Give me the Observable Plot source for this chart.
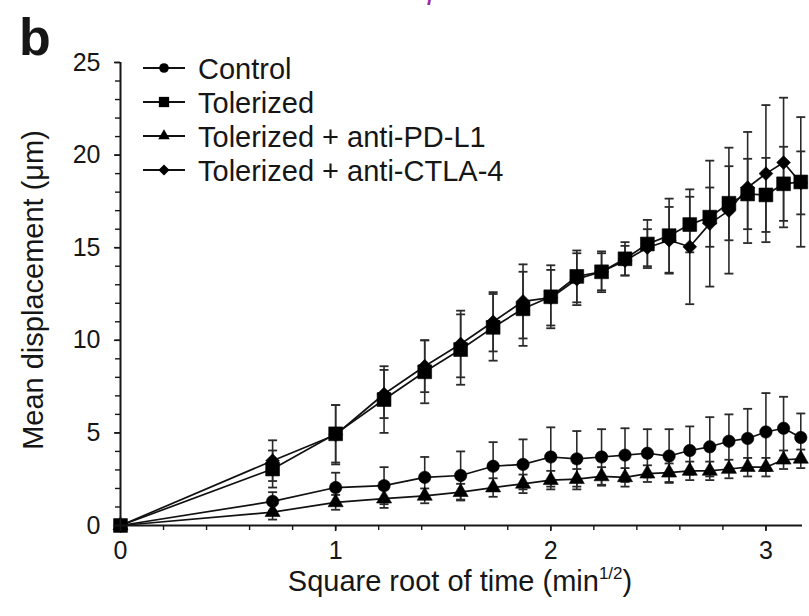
<!DOCTYPE html>
<html>
<head>
<meta charset="utf-8">
<script src="https://cdn.jsdelivr.net/npm/d3@7"></script>
<script src="https://cdn.jsdelivr.net/npm/@observablehq/plot@0.6"></script>
<style>
  body { margin: 0; background: #fff; }
  #chart { position: relative; width: 809px; height: 616px; overflow: hidden; background: #fff; }
</style>
</head>
<body>
<div id="chart"></div>
<script>
// ---- data ----
const xValues = [0, 0.707, 1, 1.225, 1.414, 1.581, 1.732, 1.871, 2, 2.121, 2.236, 2.345, 2.449, 2.55, 2.646, 2.739, 2.828, 2.915, 3, 3.082, 3.162];

const seriesNames = ["Control", "Tolerized", "Tolerized + anti-PD-L1", "Tolerized + anti-CTLA-4"];

const control    = [0, 1.3, 2.05, 2.15, 2.6, 2.7, 3.2, 3.3, 3.7, 3.6, 3.7, 3.8, 3.9, 3.75, 4.05, 4.25, 4.55, 4.7, 5.05, 5.25, 4.75];
const controlErr = [0, 0.5, 0.8, 1.0, 1.1, 1.3, 1.3, 1.35, 1.6, 1.5, 1.5, 1.45, 1.3, 1.45, 1.3, 1.6, 1.45, 1.6, 2.1, 1.7, 1.3];

const tolerized    = [0, 3.05, 4.95, 6.8, 8.3, 9.5, 10.7, 11.7, 12.35, 13.45, 13.7, 14.4, 15.2, 15.65, 16.25, 16.65, 17.4, 17.9, 17.85, 18.45, 18.55];
const tolerizedErr = [0, 1.0, 1.55, 1.8, 1.7, 1.9, 1.8, 2.0, 1.7, 1.4, 1.1, 0.9, 1.3, 2.0, 1.5, 1.6, 2.0, 1.9, 2.0, 2.0, 3.5];

const pdl1    = [0, 0.72, 1.25, 1.45, 1.6, 1.8, 2.05, 2.25, 2.45, 2.5, 2.65, 2.6, 2.8, 2.85, 2.95, 2.95, 3.05, 3.15, 3.15, 3.55, 3.6];
const pdl1Err = [0, 0.4, 0.4, 0.5, 0.4, 0.45, 0.5, 0.5, 0.5, 0.55, 0.5, 0.5, 0.45, 0.5, 0.5, 0.5, 0.5, 0.5, 0.5, 0.5, 0.5];

const ctla4    = [0, 3.5, 4.9, 7.1, 8.6, 9.8, 11.0, 12.1, 12.3, 13.3, 13.7, 14.3, 15.0, 15.4, 15.05, 16.3, 17.0, 18.25, 19.0, 19.6, 18.5];
const ctla4Err = [0, 1.1, 1.6, 1.3, 1.4, 1.8, 1.6, 2.0, 1.5, 1.4, 1.0, 0.8, 1.0, 1.8, 3.1, 3.4, 3.4, 3.0, 3.7, 3.5, 1.7];

const yTicks = [0, 5, 10, 15, 20, 25];
const yMinorTicks = [0,1,2,3,4,5,6,7,8,9,10,11,12,13,14,15,16,17,18,19,20,21,22,23,24,25];
const xTicks = [0, 1, 2, 3];
const xTickLabels = ["0", "1", "2", "3"];
const xMinorTicks = [0, 0.2, 0.4, 0.6, 0.8, 1, 1.2, 1.4, 1.6, 1.8, 2, 2.2, 2.4, 2.6, 2.8, 3];

const panelLabel = "b";
const xTitle = "Square root of time (min";
const xTitleSup = "1/2";
const yTitle = "Mean displacement (μm)";

// ---- styles ----
const seriesValues = [control, tolerized, pdl1, ctla4];
const seriesErrors = [controlErr, tolerizedErr, pdl1Err, ctla4Err];
const seriesSymbols = ["circle", "square", "triangle", "diamond2"];
const d3Symbols = [d3.symbolCircle, d3.symbolSquare, d3.symbolTriangle, d3.symbolDiamond2];
const seriesRadius = [6.2, 7.8, 5.6, 6.2];
const legendRadius = [4.8, 5.8, 4.3, 5];
const ink = "#161616";
const font = "'Liberation Sans', Arial, Helvetica, sans-serif";

const rows = seriesNames.flatMap((s, i) =>
  xValues.map((x, j) => ({ series: s, x, y: seriesValues[i][j], err: seriesErrors[i][j] }))
);
const errRows = rows.filter(d => d.err > 0);

const cap = { draw(ctx) { ctx.moveTo(-4.5, 0); ctx.lineTo(4.5, 0); } };

const chart = Plot.plot({
  width: 809,
  height: 616,
  marginLeft: 120,
  marginRight: 7,
  marginTop: 62,
  marginBottom: 91,
  x: { domain: [0, 3.17] },
  y: { domain: [0, 25] },
  style: { fontFamily: font, color: ink, background: "#fff" },
  marks: [
    Plot.ruleX(errRows, { x: "x", y1: d => d.y - d.err, y2: d => d.y + d.err, stroke: "#2a2a2a", strokeWidth: 1.6 }),
    Plot.dot(errRows, { x: "x", y: d => d.y + d.err, symbol: cap, stroke: "#2a2a2a", strokeWidth: 1.8, fill: "none" }),
    Plot.dot(errRows, { x: "x", y: d => d.y - d.err, symbol: cap, stroke: "#2a2a2a", strokeWidth: 1.8, fill: "none" }),
    Plot.line(rows, { x: "x", y: "y", z: "series", stroke: "#111", strokeWidth: 1.7 }),
    ...seriesNames.map((s, i) =>
      Plot.dot(rows.filter(d => d.series === s), {
        x: "x", y: "y", symbol: seriesSymbols[i], r: seriesRadius[i], fill: "#000", stroke: "#000", strokeWidth: 0.6
      })
    ),
    Plot.axisY(yTicks, { tickSize: 6, tickPadding: 14, fontSize: 25, label: null, strokeWidth: 1.6, tickFormat: d => String(d) }),
    Plot.axisY(yMinorTicks, { tickSize: 5, text: null, label: null, strokeWidth: 1.4 }),
    Plot.axisX(xTicks, { tickSize: 6, tickPadding: 10, fontSize: 25, label: null, strokeWidth: 1.6, tickFormat: d => xTickLabels[xTicks.indexOf(d)] }),
    Plot.axisX(xMinorTicks, { tickSize: 5, text: null, label: null, strokeWidth: 1.4 }),
    Plot.ruleX([0], { stroke: ink, strokeWidth: 2 }),
    Plot.ruleY([0], { stroke: ink, strokeWidth: 2 })
  ]
});

document.getElementById("chart").appendChild(chart);

// ---- annotations: titles, panel label, legend ----
const svg = d3.select(chart);

svg.append("text")
  .attr("x", 428).attr("y", -1)
  .attr("text-anchor", "start")
  .attr("font-family", font).attr("font-style", "italic")
  .attr("font-size", 30).attr("fill", "#9a2a9c")
  .text("p");

svg.append("text")
  .attr("x", 19).attr("y", 55)
  .attr("text-anchor", "start")
  .attr("font-family", font).attr("font-weight", "bold")
  .attr("font-size", 52).attr("fill", ink)
  .text(panelLabel);

svg.append("text")
  .attr("transform", "translate(43,290) rotate(-90)")
  .attr("text-anchor", "middle")
  .attr("font-family", font).attr("font-size", 29).attr("fill", ink)
  .text(yTitle);

const xt = svg.append("text")
  .attr("x", 460).attr("y", 591)
  .attr("text-anchor", "middle")
  .attr("font-family", font).attr("font-size", 29).attr("fill", ink);
xt.append("tspan").text(xTitle);
xt.append("tspan").attr("font-size", 17).attr("dy", -12).text(xTitleSup);
xt.append("tspan").attr("font-size", 29).attr("dy", 12).text(")");

const legend = svg.append("g");
seriesNames.forEach((s, i) => {
  const y = 68 + i * 34;
  legend.append("line").attr("x1", 143).attr("x2", 185).attr("y1", y).attr("y2", y)
    .attr("stroke", "#111").attr("stroke-width", 2);
  legend.append("path")
    .attr("transform", `translate(164,${y})`)
    .attr("d", d3.symbol(d3Symbols[i], Math.PI * legendRadius[i] * legendRadius[i])())
    .attr("fill", "#000");
  legend.append("text").attr("x", 198).attr("y", y + 10.5)
    .attr("text-anchor", "start")
    .attr("font-family", font).attr("font-size", 29).attr("fill", ink)
    .text(s);
});
</script>
</body>
</html>
